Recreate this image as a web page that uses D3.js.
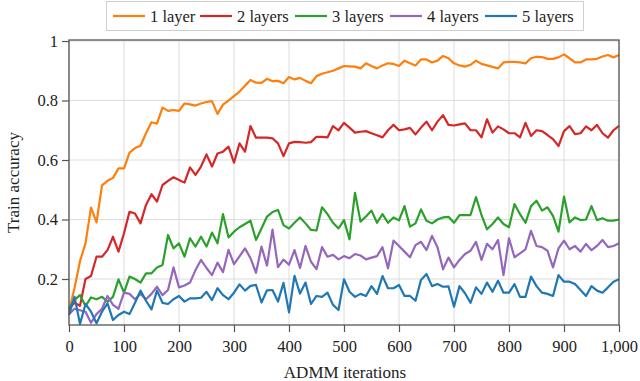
<!DOCTYPE html>
<html>
<head>
<meta charset="utf-8">
<script src="https://cdn.jsdelivr.net/npm/d3@7"></script>
<style>
  body { margin: 0; background: #fff; }
  svg text { font-family: "Liberation Serif", "Tinos", "Times New Roman", "DejaVu Serif", serif !important; }
</style>
</head>
<body>
<div id="chart"></div>
<script>
// iterations every 10 steps, 0..1000
var iterations = d3.range(0, 1001, 10);

var layerNames = ["1 layer", "2 layers", "3 layers", "4 layers", "5 layers"];
var layerColors = ["#ff7f0e", "#d62728", "#2ca02c", "#9467bd", "#1f77b4"];

var acc1 = [0.09, 0.17, 0.26, 0.32, 0.44, 0.39, 0.515, 0.53, 0.54, 0.572,
  0.572, 0.625, 0.64, 0.648, 0.69, 0.727, 0.722, 0.776, 0.765, 0.768,
  0.765, 0.79, 0.787, 0.783, 0.79, 0.795, 0.798, 0.755, 0.786, 0.80,
  0.815, 0.83, 0.85, 0.869, 0.86, 0.859, 0.873, 0.865, 0.866, 0.858,
  0.879, 0.871, 0.876, 0.866, 0.858, 0.882, 0.89, 0.895, 0.90, 0.908,
  0.916, 0.915, 0.914, 0.908, 0.925, 0.916, 0.908, 0.918, 0.925, 0.923,
  0.916, 0.934, 0.925, 0.918, 0.938, 0.938, 0.928, 0.934, 0.95, 0.942,
  0.925, 0.918, 0.914, 0.92, 0.934, 0.923, 0.918, 0.913, 0.908, 0.928,
  0.93, 0.93, 0.928, 0.925, 0.942, 0.947, 0.946, 0.94, 0.94, 0.945,
  0.955, 0.942, 0.928, 0.928, 0.938, 0.938, 0.94, 0.948, 0.953, 0.945,
  0.953];

var acc2 = [0.10, 0.12, 0.11, 0.20, 0.21, 0.275, 0.275, 0.297, 0.342, 0.292,
  0.354, 0.426, 0.42, 0.387, 0.449, 0.485, 0.46, 0.516, 0.53, 0.542,
  0.533, 0.524, 0.575, 0.55, 0.578, 0.619, 0.578, 0.622, 0.628, 0.645,
  0.591, 0.656, 0.628, 0.714, 0.675, 0.675, 0.675, 0.673, 0.656, 0.613,
  0.656, 0.661, 0.66, 0.658, 0.66, 0.678, 0.678, 0.676, 0.714, 0.70,
  0.725, 0.709, 0.692, 0.695, 0.697, 0.69, 0.683, 0.676, 0.70, 0.718,
  0.70, 0.703, 0.708, 0.686, 0.709, 0.729, 0.70, 0.729, 0.751, 0.718,
  0.716, 0.72, 0.723, 0.70, 0.70, 0.676, 0.737, 0.692, 0.713, 0.703,
  0.69, 0.69, 0.676, 0.725, 0.681, 0.70, 0.697, 0.684, 0.67, 0.647,
  0.697, 0.714, 0.687, 0.69, 0.713, 0.70, 0.718, 0.69, 0.675, 0.70,
  0.715];

var acc3 = [0.10, 0.13, 0.146, 0.109, 0.138, 0.132, 0.14, 0.124, 0.14, 0.199,
  0.154, 0.208, 0.20, 0.188, 0.219, 0.219, 0.239, 0.247, 0.348, 0.303,
  0.32, 0.275, 0.337, 0.309, 0.342, 0.309, 0.356, 0.32, 0.418, 0.34,
  0.359, 0.374, 0.385, 0.396, 0.331, 0.37, 0.41, 0.425, 0.432, 0.381,
  0.37, 0.389, 0.407, 0.387, 0.365, 0.363, 0.441, 0.418, 0.389, 0.37,
  0.398, 0.333, 0.49, 0.393, 0.41, 0.43, 0.389, 0.418, 0.389, 0.407,
  0.397, 0.445, 0.376, 0.387, 0.434, 0.396, 0.387, 0.40, 0.407, 0.409,
  0.389, 0.415, 0.415, 0.415, 0.475, 0.415, 0.367, 0.385, 0.407, 0.385,
  0.374, 0.452, 0.418, 0.389, 0.445, 0.463, 0.43, 0.441, 0.412, 0.359,
  0.477, 0.39, 0.407, 0.398, 0.40, 0.445, 0.398, 0.404, 0.396, 0.396,
  0.40];

var acc4 = [0.082, 0.10, 0.095, 0.09, 0.053, 0.082, 0.10, 0.143, 0.113, 0.10,
  0.154, 0.15, 0.132, 0.15, 0.132, 0.15, 0.174, 0.146, 0.163, 0.239,
  0.172, 0.178, 0.188, 0.23, 0.264, 0.237, 0.213, 0.255, 0.223, 0.298,
  0.25, 0.276, 0.303, 0.27, 0.221, 0.309, 0.245, 0.366, 0.24, 0.265,
  0.248, 0.297, 0.237, 0.311, 0.258, 0.233, 0.307, 0.275, 0.281, 0.266,
  0.277, 0.27, 0.284, 0.279, 0.266, 0.272, 0.277, 0.307, 0.236, 0.329,
  0.311, 0.292, 0.273, 0.314, 0.325, 0.297, 0.345, 0.307, 0.233, 0.272,
  0.239, 0.264, 0.284, 0.295, 0.325, 0.264, 0.318, 0.30, 0.331, 0.213,
  0.337, 0.273, 0.286, 0.30, 0.362, 0.311, 0.307, 0.295, 0.239, 0.303,
  0.329, 0.30, 0.311, 0.292, 0.318, 0.297, 0.311, 0.331, 0.307, 0.311,
  0.32];

var acc5 = [0.079, 0.14, 0.049, 0.116, 0.09, 0.051, 0.09, 0.118, 0.062, 0.079,
  0.09, 0.082, 0.12, 0.161, 0.127, 0.098, 0.161, 0.12, 0.116, 0.132,
  0.143, 0.124, 0.135, 0.135, 0.137, 0.157, 0.129, 0.169, 0.146, 0.132,
  0.154, 0.182, 0.161, 0.177, 0.18, 0.121, 0.162, 0.163, 0.124, 0.187,
  0.088, 0.211, 0.151, 0.188, 0.116, 0.143, 0.14, 0.154, 0.113, 0.096,
  0.199, 0.157, 0.14, 0.15, 0.143, 0.176, 0.15, 0.21, 0.169, 0.169,
  0.18, 0.143, 0.143, 0.127, 0.197, 0.217, 0.176, 0.183, 0.174, 0.175,
  0.107, 0.176, 0.152, 0.12, 0.172, 0.15, 0.188, 0.157, 0.194, 0.154,
  0.154, 0.183, 0.14, 0.14, 0.208, 0.176, 0.154, 0.15, 0.143, 0.213,
  0.191, 0.191, 0.183, 0.163, 0.143, 0.176, 0.161, 0.154, 0.172, 0.191,
  0.199];

var xTicks = [0, 100, 200, 300, 400, 500, 600, 700, 800, 900, 1000];
var yTicks = [0.2, 0.4, 0.6, 0.8, 1];

(function() {
  var width = 640,
    height = 381;

  var left = 69, right = 619, top = 40, bottom = 325;
  var serif = "'Liberation Serif', 'Tinos', 'Times New Roman', 'DejaVu Serif', serif";

  var svg = d3.select("#chart")
    .append("svg")
    .attr("width", width)
    .attr("height", height)
    .attr("font-family", serif);

  var x = d3.scaleLinear().domain([0, 1000]).range([left, right]);
  var y = d3.scaleLinear().domain([0.0454, 1.0034]).range([bottom, top]);

  var series = [acc1, acc2, acc3, acc4, acc5].map(function(vals, i) {
    return { name: layerNames[i], color: layerColors[i], values: vals };
  });

  // grid
  svg.append("g")
    .selectAll("line")
    .data(xTicks)
    .enter().append("line")
    .attr("x1", function(d) { return x(d); })
    .attr("x2", function(d) { return x(d); })
    .attr("y1", top)
    .attr("y2", bottom)
    .attr("stroke", "#dcdcdc")
    .attr("stroke-width", 1);

  svg.append("g")
    .selectAll("line")
    .data(yTicks)
    .enter().append("line")
    .attr("x1", left)
    .attr("x2", right)
    .attr("y1", function(d) { return y(d); })
    .attr("y2", function(d) { return y(d); })
    .attr("stroke", "#dcdcdc")
    .attr("stroke-width", 1);

  // axes (outward ticks)
  var xAxis = svg.append("g")
    .attr("transform", "translate(0," + bottom + ")")
    .call(d3.axisBottom(x).tickValues(xTicks).tickSize(7).tickPadding(8)
      .tickFormat(d3.format(",")));

  var yAxis = svg.append("g")
    .attr("transform", "translate(" + left + ",0)")
    .call(d3.axisLeft(y).tickValues(yTicks).tickSize(7).tickPadding(4)
      .tickFormat(function(d) { return d === 1 ? "1" : d3.format(".1f")(d); }));

  [xAxis, yAxis].forEach(function(ax) {
    ax.attr("font-family", serif).attr("font-size", null);
    ax.select(".domain").remove();
    ax.selectAll(".tick line").attr("stroke", "#555").attr("stroke-width", 1.2);
    ax.selectAll(".tick text")
      .style("font-family", serif)
      .style("font-size", "16.5px")
      .attr("fill", "#222");
  });

  // lines
  var line = d3.line()
    .x(function(d, i) { return x(iterations[i]); })
    .y(function(d) { return y(d); });

  svg.append("g")
    .selectAll("path")
    .data(series)
    .enter().append("path")
    .attr("d", function(d) { return line(d.values); })
    .attr("fill", "none")
    .attr("stroke", function(d) { return d.color; })
    .attr("stroke-width", 2.2)
    .attr("stroke-linejoin", "round");

  // frame
  svg.append("rect")
    .attr("x", left)
    .attr("y", top)
    .attr("width", right - left)
    .attr("height", bottom - top)
    .attr("fill", "none")
    .attr("stroke", "#555")
    .attr("stroke-width", 1.3);

  // axis labels
  svg.append("text")
    .attr("x", (left + right) / 2 + 1)
    .attr("y", 378)
    .attr("text-anchor", "middle")
    .style("font-family", serif)
    .style("font-size", "17px")
    .attr("fill", "#222")
    .text("ADMM iterations");

  svg.append("text")
    .attr("transform", "translate(19," + ((top + bottom) / 2) + ") rotate(-90)")
    .attr("text-anchor", "middle")
    .style("font-family", serif)
    .style("font-size", "17px")
    .attr("fill", "#222")
    .text("Train accuracy");

  // legend
  var legend = svg.append("g");
  legend.append("rect")
    .attr("x", 106.5)
    .attr("y", 1.5)
    .attr("width", 477)
    .attr("height", 29)
    .attr("fill", "#fff")
    .attr("stroke", "#cfcfcf");

  var legendX = [113, 200, 295, 390, 485];
  var items = legend.selectAll("g")
    .data(series)
    .enter().append("g")
    .attr("transform", function(d, i) { return "translate(" + legendX[i] + ",16)"; });

  items.append("line")
    .attr("x1", 0).attr("x2", 32)
    .attr("y1", 0).attr("y2", 0)
    .attr("stroke", function(d) { return d.color; })
    .attr("stroke-width", 2.2);

  items.append("text")
    .attr("x", 37)
    .attr("y", 5.5)
    .style("font-family", serif)
    .style("font-size", "16.5px")
    .attr("fill", "#222")
    .text(function(d) { return d.name; });
})();
</script>
</body>
</html>
